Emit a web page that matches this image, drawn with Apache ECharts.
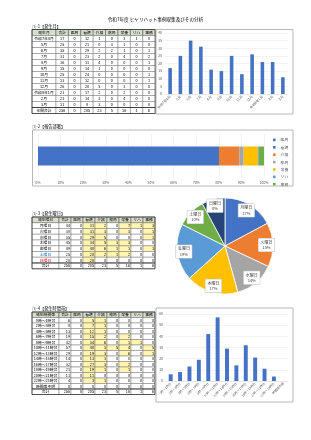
<!DOCTYPE html>
<html><head><meta charset="utf-8">
<script src="https://cdn.jsdelivr.net/npm/echarts@6/dist/echarts.min.js"></script>
<style>html,body{margin:0;padding:0;background:#fff;}#c{width:311px;height:440px;}</style>
</head><body><div id="c"></div>
<script>
// ---------------- DATA ----------------
const pageTitle = '令和7年度 ヒヤリハット事例収集及びその分析';
const deptNames = ['医局','看護','介福','薬局','栄養','リハ','事務'];
const deptColors = ['#4472C4','#4472C4','#ED7D31','#A5A5A5','#FFC000','#5B9BD5','#70AD47'];

// ①-1 発生月
const monthLabels = ['令和7年4月','5月','6月','7月','8月','9月','10月','11月','12月','令和8年1月','2月','3月'];
const monthTotal  = [17,25,35,31,16,15,25,13,26,21,21,11];
const monthIkyoku = [0,0,0,0,0,0,0,0,0,0,0,0];
const monthKango  = [12,21,29,23,11,14,24,12,20,17,14,8];
const monthKaifuku= [1,0,2,2,4,1,0,0,5,2,3,3];
const monthYakkyoku=[0,3,2,0,0,0,0,0,0,0,0,0];
const monthEiyou  = [3,1,1,4,0,0,0,0,1,2,4,0];
const monthReha   = [1,0,0,0,0,0,0,0,0,0,0,0];
const monthJimu   = [0,0,1,2,1,0,1,1,0,0,0,0];
const yearTotals  = [256,0,205,23,5,16,1,6];   // 合計, 医局, 看護, 介福, 薬局, 栄養, リハ, 事務

// ①-2 報告部署 (件数)
const deptCounts = [0,205,23,5,16,1,6];
const deptSum = 256;

// ①-3 発生曜日
const weekdayLabels = ['月曜日','火曜日','水曜日','木曜日','金曜日','土曜日','日曜日'];
const wdTotal   = [44,38,35,45,49,25,20];
const wdIkyoku  = [0,0,0,0,0,0,0];
const wdKango   = [31,31,29,34,40,20,20];
const wdKaifuku = [2,3,5,5,6,2,0];
const wdYakkyoku= [0,0,0,3,1,1,0];
const wdEiyou   = [7,3,0,3,1,2,0];
const wdReha    = [1,0,0,0,0,0,0];
const wdJimu    = [3,1,1,0,1,0,0];
const pieColors = ['#4472C4','#ED7D31','#A5A5A5','#FFC000','#5B9BD5','#70AD47','#264478'];

// ①-4 発生時間帯
const timeLabels = ['0時〜1時台','2時〜3時台','4時〜5時台','6時〜7時台','8時〜9時台','10時〜11時台','12時〜13時台','14時〜15時台','16時〜17時台','18時〜19時台','20時〜21時台','22時〜23時台','時間帯不明'];
const tmTotal   = [6,8,13,19,42,57,29,14,32,21,11,4,0];
const tmIkyoku  = [0,0,0,0,0,0,0,0,0,0,0,0,0];
const tmKango   = [5,7,12,15,34,40,19,13,27,19,11,3,0];
const tmKaifuku = [1,1,1,2,6,3,3,1,3,1,0,1,0];
const tmYakkyoku= [0,0,0,0,0,5,0,0,0,0,0,0,0];
const tmEiyou   = [0,0,0,2,1,4,6,0,2,1,0,0,0];
const tmReha    = [0,0,0,0,1,0,0,0,0,0,0,0,0];
const tmJimu    = [0,0,0,0,0,5,1,0,0,0,0,0,0];

// ---------------- DRAW ----------------
const FONT = '"Noto Sans CJK JP", "Noto Sans CJK SC", sans-serif';
const els = [];
function txt(x, y, s, o) {
  o = o || {};
  els.push({type:'text', x:x, y:y, silent:true, z:10,
    style:{text:s, fontSize:o.size||3.8, fontFamily:FONT, fill:o.color||'#000',
      align:o.align||'left', verticalAlign:'middle', fontWeight:o.weight||'normal'}});
}
function rect(x, y, w, h, fill, stroke, lw) {
  els.push({type:'rect', silent:true, z:5, shape:{x:x, y:y, width:w, height:h},
    style:{fill:fill || 'transparent', stroke:stroke || null, lineWidth:lw || 0.5}});
}
function table(x0, y0, rowH, firstW, colW, headers, rowLabels, cols, totalLabel, totals, opt) {
  const nC = headers.length;
  const W = firstW + colW * (nC - 1);
  const colX = c => c === 0 ? x0 : x0 + firstW + colW * (c - 1);
  const colWd = c => c === 0 ? firstW : colW;
  for (let c = 0; c < nC; c++) {
    rect(colX(c), y0, colWd(c), rowH, '#D7DECB', '#404040', 0.5);
    txt(colX(c) + colWd(c) / 2, y0 + rowH / 2, headers[c], {align:'center'});
  }
  const rows = rowLabels.length;
  for (let r = 0; r <= rows; r++) {
    const y = y0 + rowH * (r + 1);
    const isTotal = r === rows;
    for (let c = 0; c < nC; c++) {
      let val, fill = '#fff';
      if (c === 0) val = isTotal ? totalLabel : rowLabels[r];
      else val = isTotal ? totals[c - 1] : cols[c - 1][r];
      if (opt.yellow && !isTotal && c >= 2 && val > 0) fill = '#FFF4B0';
      rect(colX(c), y, colWd(c), rowH, fill, '#595959', 0.4);
      let color = '#000';
      if (c === 0 && opt.labelColors && !isTotal && opt.labelColors[r]) color = opt.labelColors[r];
      if (c === 0 || opt.center) txt(colX(c) + colWd(c) / 2, y + rowH / 2, String(val), {align:'center', color:color});
      else txt(colX(c) + colWd(c) - 1, y + rowH / 2, String(val), {align:'right', color:color});
    }
  }
  rect(x0, y0, W, rowH * (rows + 2), null, '#262626', 0.7);
  els.push({type:'line', silent:true, z:6, shape:{x1:x0, y1:y0 + rowH * (rows + 1), x2:x0 + W, y2:y0 + rowH * (rows + 1)}, style:{stroke:'#262626', lineWidth:0.8}});
}

txt(155.5, 19.5, pageTitle, {align:'center', size:4.6});
txt(32, 26, '①-1【発生月】', {size:4.2});
txt(32, 126.5, '①-2【報告部署】', {size:4.2});
txt(32, 213, '①-3【発生曜日】', {size:4.2});
txt(32, 308.5, '①-4【発生時間帯】', {size:4.2});

const hdr = n => [n, '合計'].concat(deptNames);
table(32, 29.5, 6.0, 24, 12.4, hdr('発生月'), monthLabels,
  [monthTotal, monthIkyoku, monthKango, monthKaifuku, monthYakkyoku, monthEiyou, monthReha, monthJimu],
  '年間合計', yearTotals, {center:true});
table(32, 217, 5.75, 27, 12, hdr('発生曜日'), weekdayLabels,
  [wdTotal, wdIkyoku, wdKango, wdKaifuku, wdYakkyoku, wdEiyou, wdReha, wdJimu],
  '合計', yearTotals, {yellow:true, labelColors:[null,null,null,null,null,'#0070C0','#FF0000']});
table(32, 312, 5.5, 27, 12, hdr('発生時間帯'), timeLabels,
  [tmTotal, tmIkyoku, tmKango, tmKaifuku, tmYakkyoku, tmEiyou, tmReha, tmJimu],
  '合計', yearTotals, {yellow:true});

rect(156, 29.5, 137, 84.5, null, '#A6A6A6', 0.8);
rect(32.5, 130, 260.5, 56, null, '#A6A6A6', 0.8);
rect(156, 308, 137, 94, null, '#A6A6A6', 0.8);

const axisLbl = {fontSize:3.4, color:'#595959', fontFamily:FONT};
const split = {show:true, lineStyle:{color:'#E6E6E6', width:0.5}};

const chart = echarts.init(document.getElementById('c'));
chart.setOption({
  animation:false,
  textStyle:{fontFamily:FONT},
  graphic: els,
  legend: {data: deptNames, orient:'vertical', left:268, top:133, itemWidth:2.6, itemHeight:2.6, itemGap:3.6,
    icon:'rect', textStyle:{fontSize:3.8, color:'#595959', fontFamily:FONT}},
  grid: [
    {left:165, right:23, top:33, bottom:346},
    {left:38, right:47, top:134, bottom:262},
    {left:166, right:23, top:314, bottom:59}
  ],
  xAxis: [
    {type:'category', gridIndex:0, data:monthLabels, axisTick:{show:false},
      axisLine:{lineStyle:{color:'#D9D9D9', width:0.5}}, axisLabel:Object.assign({rotate:45, interval:0, margin:2}, axisLbl)},
    {type:'value', gridIndex:1, min:0, max:100, interval:10, axisLabel:Object.assign({formatter:'{value}%', margin:3}, axisLbl),
      splitLine:split, axisLine:{show:false}, axisTick:{show:false}},
    {type:'category', gridIndex:2, data:timeLabels, axisTick:{show:false},
      axisLine:{lineStyle:{color:'#D9D9D9', width:0.5}}, axisLabel:{rotate:45, interval:0, margin:2, fontSize:3, color:'#595959', fontFamily:FONT}}
  ],
  yAxis: [
    {type:'value', gridIndex:0, min:0, max:40, interval:5, axisLabel:Object.assign({margin:3}, axisLbl), splitLine:split, axisLine:{show:false}},
    {type:'category', gridIndex:1, data:['報告部署'], show:false},
    {type:'value', gridIndex:2, min:0, max:60, interval:10, axisLabel:Object.assign({margin:3}, axisLbl), splitLine:split, axisLine:{show:false}}
  ],
  series: [
    {type:'bar', xAxisIndex:0, yAxisIndex:0, data:monthTotal, barWidth:'35%', itemStyle:{color:'#4472C4'}, silent:true}
  ].concat(deptNames.map((n, i) => ({
    type:'bar', name:n, xAxisIndex:1, yAxisIndex:1, stack:'dept', barWidth:19,
    data:[deptCounts[i] / deptSum * 100], itemStyle:{color:deptColors[i]}, silent:true
  }))).concat([
    {type:'pie', name:'曜日', center:[225, 246], radius:48, startAngle:90, clockwise:true, silent:true,
      percentPrecision:0, label:{show:false}, labelLine:{show:false},
      itemStyle:{borderColor:'#fff', borderWidth:0.8},
      color:pieColors,
      data: weekdayLabels.map((n, i) => ({name:n, value:wdTotal[i]}))},
    {type:'pie', name:'曜日ラベル', center:[225, 246], radius:[29, 48], startAngle:90, clockwise:true, silent:true,
      percentPrecision:0, itemStyle:{color:'transparent'}, labelLine:{show:false},
      label:{show:true, position:'inside', formatter:'{b}\n{d}%', fontSize:4, lineHeight:5.5, color:'#404040',
        backgroundColor:'#fff', borderColor:'#BFBFBF', borderWidth:0.5, padding:[1,2], fontFamily:FONT},
      data: weekdayLabels.map((n, i) => ({name:n, value:wdTotal[i]}))},
    {type:'bar', xAxisIndex:2, yAxisIndex:2, data:tmTotal, barWidth:'42%', itemStyle:{color:'#4472C4'}, silent:true}
  ])
});
</script>
</body></html>
